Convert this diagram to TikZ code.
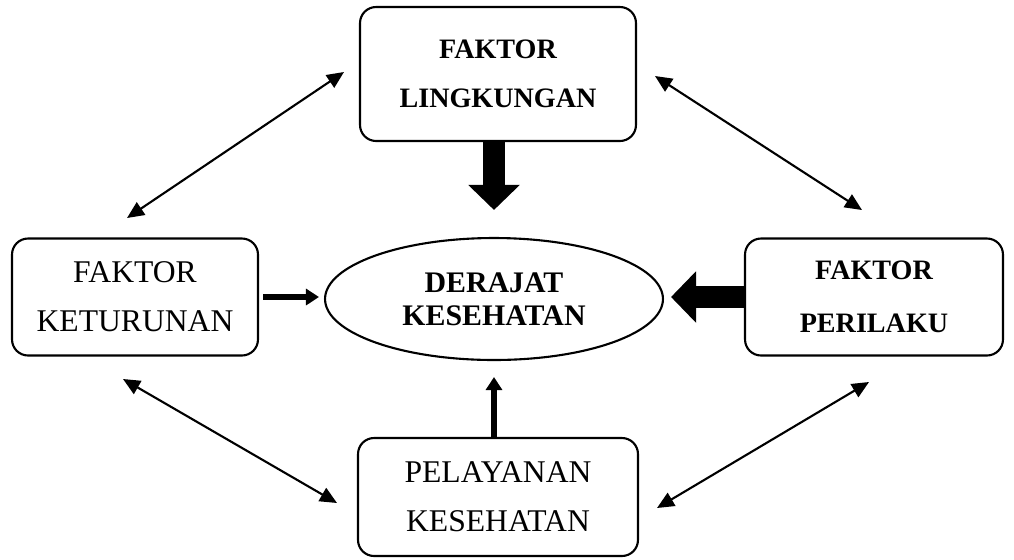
\documentclass[tikz,border=0pt]{standalone}
\usepackage{fontspec}
\setmainfont{Liberation Serif}
\usepackage{tikz}
\usetikzlibrary{arrows.meta,shapes.geometric}
\tikzset{
  fbox/.style ={draw=black, line width=1.2pt, rounded corners=0.32cm, align=center, inner sep=0pt},
  fell/.style ={draw=black, line width=1.2pt, ellipse, align=center, inner sep=0pt},
  txt/.style  ={font=\fontsize{18}{28}\selectfont},
  txtb/.style ={font=\fontsize{16}{28}\selectfont\bfseries},
  dbl/.style  ={draw=black, line width=1.2pt, {Triangle[length=0.34cm,width=0.3cm]}-{Triangle[length=0.34cm,width=0.3cm]}},
  big/.style  ={draw=black, line width=0.44cm, -{Triangle[length=0.5cm,width=1cm]}},
  sml/.style  ={draw=black, line width=0.11cm, -{Triangle[length=0.26cm,width=0.32cm]}},
}
\begin{document}
\begin{tikzpicture}[x=0.02cm,y=-0.02cm]
  \useasboundingbox (0,0) rectangle (1014,559);
  % boxes
  \node[fbox,txtb,minimum width=5.52cm,minimum height=2.68cm] (lingk) at (498,74) {FAKTOR\\LINGKUNGAN};
  \node[fbox,txt,minimum width=4.92cm,minimum height=2.34cm] (ketur) at (135,297) {FAKTOR\\KETURUNAN};
  \node[fbox,txtb,minimum width=5.16cm,minimum height=2.34cm] (peril) at (874,297) {FAKTOR\\[2pt]PERILAKU};
  \node[fbox,txt,minimum width=5.6cm,minimum height=2.36cm] (pelay) at (498,497) {PELAYANAN\\KESEHATAN};
  \node[fell,font=\fontsize{17}{19}\selectfont\bfseries,minimum width=6.76cm,minimum height=2.44cm] (derajat) at (494,299) {DERAJAT\\KESEHATAN};
  % block arrows
  \draw[big,shorten >=0.54cm] (derajat.north |- lingk.south) -- (derajat.north);
  \draw[big,shorten >=0.14cm] (peril.west) -- (derajat.east |- peril.west);
  \draw[sml,shorten <=0.08cm,shorten >=0.1cm] (ketur.east) -- (derajat.west |- ketur.east);
  \draw[sml,shorten >=0.32cm] (derajat.south |- pelay.north) -- (derajat.south);
  % double arrows
  \coordinate (k1) at (127,218);
  \coordinate (l1) at (344,72);
  \coordinate (l2) at (655,76);
  \coordinate (p1) at (862,210);
  \coordinate (k2) at (123,379);
  \coordinate (s1) at (337,503);
  \coordinate (s2) at (657,508);
  \coordinate (p2) at (869,382);
  \draw[dbl] (k1) -- (l1);
  \draw[dbl] (l2) -- (p1);
  \draw[dbl] (k2) -- (s1);
  \draw[dbl] (s2) -- (p2);
\end{tikzpicture}
\end{document}
